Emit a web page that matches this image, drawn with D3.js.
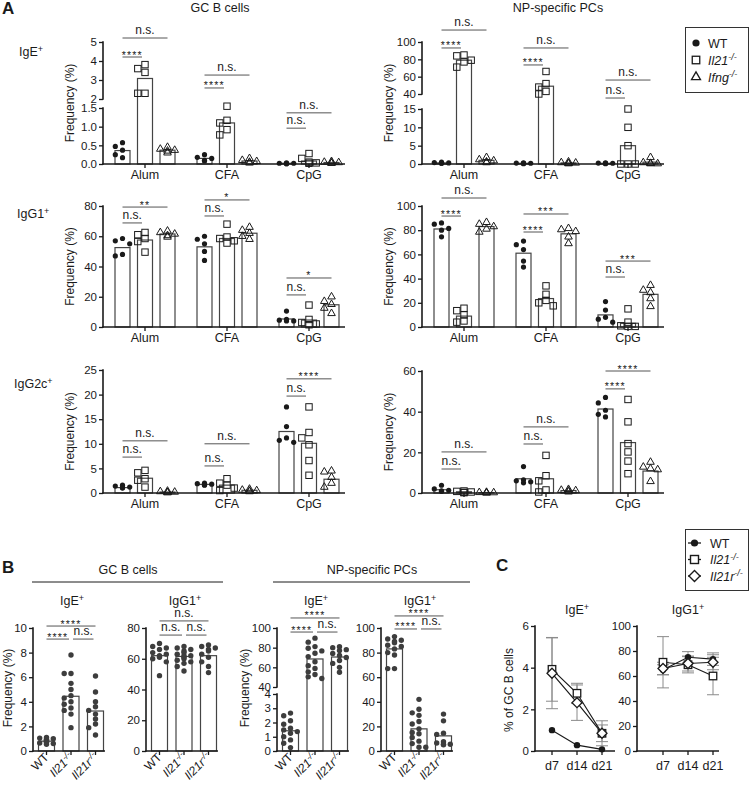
<!DOCTYPE html>
<html><head><meta charset="utf-8">
<script src="https://cdn.jsdelivr.net/npm/d3@7/dist/d3.min.js"></script>
<style>body{margin:0;background:#fff}</style>
</head><body>
<script>
// ================= DATA =================
const adjuvants = ["Alum","CFA","CpG"];
const genotypesA = ["WT","Il21","Ifng"];

// Panel A — points per [adjuvant][genotype]
const gcIgE_pts = [
  [[0.57,0.47,0.37,0.25,0.17],[3.81,3.6,3.4,2.3,2.3],[0.45,0.4,0.37,0.35,0.3]],
  [[0.25,0.18,0.15,0.1,0.08],[1.6,1.17,1.1,0.92,0.78],[0.15,0.1,0.07,0.05,0.03]],
  [[0.03,0.02,0.02,0.01,0.01],[0.28,0.15,0.05,0.03,0.02],[0.07,0.05,0.04,0.03,0.02]]
];
const gcIgE_bar = [[0.36,3.08,0.37],[0.15,1.1,0.08],[0.02,0.08,0.04]];
const gcIgE_sig = [[0,0,1,"****",4.21],[0,0,2,"n.s.",5.21],[1,0,1,"****",2.58],[1,0,2,"n.s.",3.26],[2,0,1,"n.s.",0.96],[2,0,2,"n.s.",1.37]];
const gcIgE_ticks = [0,0.5,1,1.5,2,3,4,5];

const npIgE_pts = [
  [[0.5,0.4,0.3,0.2,0.2],[85,84,79,77,71],[1.8,1.2,0.9,0.6,0.4]],
  [[0.3,0.25,0.2,0.15,0.1],[66,52,48,43,40],[0.6,0.4,0.3,0.2,0.1]],
  [[0.3,0.25,0.2,0.15,0.1],[15,10,5,0,0,0],[1.8,0.4,0.2,0.1,0.1]]
];
const npIgE_bar = [[0.3,79,1.0],[0.2,49,0.3],[0.2,5,0.5]];
const npIgE_sig = [[0,0,1,"****",93.1],[0,0,2,"n.s.",113.8],[1,0,1,"****",73.5],[1,0,2,"n.s.",93.1],[2,0,1,"n.s.",33.3],[2,0,2,"n.s.",56.1]];
const npIgE_ticks = [0,5,10,15,40,60,80,100];

const gcIgG1_pts = [
  [[58.5,57,55,48,47],[62.5,61,58.5,56.5,49.5],[63.5,62.5,61.5,60.5,59.5]],
  [[60,58,55,50,44],[68,59.5,58.5,57,55.5],[66,64,62,60,58]],
  [[10.5,5,4.5,4,4],[14.5,5,3,2,1.5],[20,17,15,12.5,9]]
];
const gcIgG1_bar = [[52.5,57.5,61.5],[53,58.5,62],[5.3,4.6,14.7]];
const gcIgG1_sig = [[0,0,1,"n.s.",68.8],[0,0,2,"**",79.3],[1,0,1,"n.s.",73.4],[1,0,2,"*",84],[2,0,1,"n.s.",21.2],[2,0,2,"*",32.4]];
const gcIgG1_ticks = [0,20,40,60,80];

const npIgG1_pts = [
  [[86,85,81.5,80,74.5],[15.5,13.5,10,5,4],[86.5,85,83,81,78.5]],
  [[71,68,64,54.5,49.5],[34,27,22,20,17.5],[81.5,80.5,79,74.5,69]],
  [[21,14,8,6.5,4],[15,4,1,0.5,0.5],[34.5,30.5,28.5,23.5,17]]
];
const npIgG1_bar = [[81,9,83],[61,23.5,77],[10,3,27]];
const npIgG1_sig = [[0,0,1,"****",91.7],[0,0,2,"n.s.",106.6],[1,0,1,"****",78.5],[1,0,2,"***",93.4],[2,0,1,"n.s.",41.3],[2,0,2,"***",54.5]];
const npIgG1_ticks = [0,20,40,60,80,100];

const gcIgG2c_pts = [
  [[1.6,1.4,1.2,1.1,1.0],[4.6,4.1,2.9,2.6,1.2],[0.4,0.3,0.2,0.1,0.1]],
  [[2.0,1.9,1.8,1.7,1.6],[2.9,2.0,1.6,1.0,0.5],[0.8,0.6,0.5,0.4,0.3]],
  [[17.5,13.5,11.2,10.7,10.3],[17.5,12.3,11.2,9.8,6.6,3.6],[4.5,4.3,3.2,2.0,1.2]]
];
const gcIgG2c_bar = [[1.1,3.0,0.2],[1.75,1.6,0.55],[12.5,10.1,2.8]];
const gcIgG2c_sig = [[0,0,1,"n.s.",7.3],[0,0,2,"n.s.",10.6],[1,0,1,"n.s.",5.5],[1,0,2,"n.s.",10.0],[2,0,1,"n.s.",19.7],[2,0,2,"****",23.2]];
const gcIgG2c_ticks = [0,5,10,15,20,25];

const npIgG2c_pts = [
  [[3.8,2,1.3,1,0.8],[1,0.8,0.5,0.3,0.2],[0.4,0.3,0.2,0.1,0.1]],
  [[13,6.5,6,5.5,5],[18.5,8.5,6,1.5,0.5],[1.8,1.4,1.2,1.0,0.6]],
  [[47,44.3,40.7,38.7,37.4],[46,35,24.3,20.2,15.7,9.5],[15.2,12.8,12,11.5,5.7]]
];
const npIgG2c_bar = [[1.6,0.6,0.2],[7,7,1.2],[41.3,24.8,10.8]];
const npIgG2c_sig = [[0,0,1,"n.s.",11.8],[0,0,2,"n.s.",20.2],[1,0,1,"n.s.",24.1],[1,0,2,"n.s.",32.5],[2,0,1,"****",51.2],[2,0,2,"****",60]];
const npIgG2c_ticks = [0,20,40,60];

// Panel B — points per genotype
const genotypesB = ["WT","Il21","Il21r"];
const bGcIgE_pts = [[1.1,1.05,1.0,0.95,0.9,0.85,0.8,0.75,0.7,0.65,0.6,0.55],[7.8,6.3,6.3,5.5,5.0,4.5,4.3,4.0,3.8,3.5,3.3,3.0,1.9],[6.1,4.8,4.0,3.6,3.3,3.0,2.6,2.2,1.9,1.3]];
const bGcIgE_bar = [0.8,4.45,3.25];
const bGcIgE_sig = [[0,1,"****",9.1],[1,2,"n.s.",9.1],[0,2,"****",10.16]];
const bGcIgE_ticks = [0,2,4,6,8,10];

const bGcIgG1_pts = [[70,68,67,66,64,63,62,61,60,58,49],[68,67,66,65,64,63,62,62,61,60,59,58,57,55,52],[69,68,67,66,65,63,61,58,55,51]];
const bGcIgG1_bar = [62,61.5,62];
const bGcIgG1_sig = [[0,1,"n.s.",75.4],[1,2,"n.s.",75.4],[0,2,"n.s.",84.6]];
const bGcIgG1_ticks = [0,20,40,60,80];

const bNpIgE_pts = [[2.66,2.47,2.12,1.88,1.6,1.48,1.36,1.25,1.0,0.78,0.54,0.24],[89.7,85.6,81.1,79.4,76.7,74.3,70.9,65.7,61.6,58.9,55.4,52.7,50.3,48.6],[81,80,78,77,74,72,70,67,64,60,55]];
const bNpIgE_bar = [1.42,68.5,70.5];
const bNpIgE_sig = [[0,1,"****",95.9],[1,2,"n.s.",95.9],[0,2,"****",110.2]];
const bNpIgE_ticks = [0,1,2,3,4,40,60,80,100];

const bNpIgG1_pts = [[93,91,90,89,88,86,85,83,80,78,67,67],[42,34,31,29,24,22,18,15,14,11,8,6,3,3],[30,24.5,14.5,13.5,7.5,6.5,5.5,5.5,5]];
const bNpIgG1_bar = [83,18,12.3];
const bNpIgG1_sig = [[0,1,"****",99.2],[1,2,"n.s.",99.2],[0,2,"****",109.8]];
const bNpIgG1_ticks = [0,20,40,60,80,100];

// Panel C — time course (mean, SD)
const days = ["d7","d14","d21"];
const cIgE_WT = [1.0,0.28,0.08];
const cIgE_WT_err = [0,0,0];
const cIgE_Il21 = [3.92,2.77,0.85];
const cIgE_Il21_err = [1.53,0.48,0.6];
const cIgE_Il21r = [3.73,2.32,0.85];
const cIgE_Il21r_err = [1.7,0.85,0.4];
const cIgE_ticks = [0,2,4,6];
const cIgG1_WT = [65,75,73.5];
const cIgG1_WT_err = [4,4.5,5];
const cIgG1_Il21 = [71,69,60];
const cIgG1_Il21_err = [20.5,6.5,15];
const cIgG1_Il21r = [66,70,71];
const cIgG1_Il21r_err = [5,6,6];
const cIgG1_ticks = [0,20,40,60,80,100];

// ================= DRAWING =================
const FONT = '"Liberation Sans", Arial, Helvetica, sans-serif';
const INK = "#1a1a1a";
const svg = d3.select("body").append("svg").attr("width",750).attr("height",790)
  .style("font-family",FONT);

const LBL = {
  WT:[{t:"WT"}],
  Il21:[{t:"Il21",i:1},{t:"-/-",i:1,sup:1}],
  Ifng:[{t:"Ifng",i:1},{t:"-/-",i:1,sup:1}],
  Il21r:[{t:"Il21r",i:1},{t:"-/-",i:1,sup:1}]
};
function rich(t, parts){
  parts.forEach(p=>{
    const s = t.append("tspan").text(p.t);
    if(p.i) s.attr("font-style","italic");
    if(p.sup) s.attr("font-size","0.72em").attr("dy","-0.5em");
  });
  return t;
}
function text(x,y,str,o={}){
  const t = svg.append("text").attr("x",x).attr("y",y).attr("fill",INK)
    .attr("font-size",o.size||12).attr("text-anchor",o.anchor||"start");
  if(o.bold) t.attr("font-weight","bold");
  if(o.parts) rich(t,o.parts); else t.text(str);
  if(o.rot!==undefined) t.attr("transform",`rotate(${o.rot},${x},${y})`);
  return t;
}
function supLabel(x,y,base,sup,o={}){
  return text(x,y,null,Object.assign({},o,{parts:[{t:base},{t:sup,sup:1}]}));
}

function marker(g,type,x,y,o={}){
  const st=o.stroke||INK, sw=o.sw||1;
  if(type==="circle") return g.append("circle").attr("cx",x).attr("cy",y).attr("r",o.r||2.6).attr("fill",o.fill||INK);
  if(type==="square"){const s=o.s||6.4;return g.append("rect").attr("x",x-s/2).attr("y",y-s/2).attr("width",s).attr("height",s).attr("fill",o.fill||"none").attr("stroke",st).attr("stroke-width",sw);}
  if(type==="triangle"){const s=o.s||7.6,h=s*Math.sqrt(3)/2;return g.append("path").attr("d",`M${x},${y-h*2/3}L${x+s/2},${y+h/3}L${x-s/2},${y+h/3}Z`).attr("fill",o.fill||"none").attr("stroke",st).attr("stroke-width",sw);}
  if(type==="diamond"){const s=o.s||4.8;return g.append("path").attr("d",`M${x},${y-s}L${x+s},${y}L${x},${y+s}L${x-s},${y}Z`).attr("fill",o.fill||"#fff").attr("stroke",st).attr("stroke-width",sw);}
}

function swarm(vals,yScale,cx,r,step,maxOff){
  const items = vals.map(v=>({v,y:yScale(v)})).sort((a,b)=>a.y-b.y);
  const placed=[];
  items.forEach(it=>{
    it.x=0;
    for(let k=0;k<30;k++){
      const off = k===0?0:(k%2?-1:1)*Math.ceil(k/2)*step;
      if(Math.abs(off)>maxOff) continue;
      const ok = placed.every(p=>Math.abs(p.y-it.y)>=2*r*0.9 || Math.abs(p.x-off)>=2*r*0.9);
      if(ok){it.x=off;break;}
    }
    placed.push(it);
  });
  return items.map(it=>({x:cx+it.x,y:it.y}));
}

function yAxis(x,scale,ticks,fmt,segs){
  const ax = d3.axisLeft(scale).tickValues(ticks).tickFormat(fmt).tickSize(4).tickPadding(2);
  const ga = svg.append("g").attr("transform",`translate(${x},0)`).call(ax);
  ga.attr("font-family",FONT);
  ga.select(".domain").remove();
  ga.selectAll(".tick line").attr("stroke",INK).attr("stroke-width",1.3);
  ga.selectAll(".tick text").attr("font-size",11.5).attr("fill",INK);
  segs.forEach(([a,b])=>ga.append("line").attr("x1",0).attr("x2",0)
    .attr("y1",scale(a)+0.7).attr("y2",scale(b)-0.7).attr("stroke",INK).attr("stroke-width",1.6));
  return ga;
}
function xAxisLine(x1,x2,y,tickXs){
  svg.append("line").attr("x1",x1-0.8).attr("x2",x2).attr("y1",y).attr("y2",y).attr("stroke",INK).attr("stroke-width",1.6);
  tickXs.forEach(tx=>svg.append("line").attr("x1",tx).attr("x2",tx).attr("y1",y).attr("y2",y+4).attr("stroke",INK).attr("stroke-width",1.3));
}
function sigMark(x1,x2,y,label){
  svg.append("line").attr("x1",x1).attr("x2",x2).attr("y1",y).attr("y2",y).attr("stroke","#555").attr("stroke-width",1);
  const stars = label.indexOf("*")>=0;
  const t = svg.append("text").attr("x",(x1+x2)/2).attr("y",stars?y+1.5:y-4).attr("text-anchor","middle")
    .attr("fill",INK).attr("font-size",stars?10.5:12).text(label);
  if(stars) t.attr("letter-spacing","1.2px");
}

// ----- Panel A -----
const panelsA = [
  {x0:103,pts:gcIgE_pts,bar:gcIgE_bar,sig:gcIgE_sig,ticks:gcIgE_ticks,dom:[0,1.5,2,5],rng:[164,108,99,42],segs:[[0,1.5],[2,5]],fmt:d=>d<2?d.toFixed(1):d},
  {x0:422,pts:npIgE_pts,bar:npIgE_bar,sig:npIgE_sig,ticks:npIgE_ticks,dom:[0,15,40,100],rng:[164,109,94,42],segs:[[0,15],[40,100]],fmt:d=>d},
  {x0:103,pts:gcIgG1_pts,bar:gcIgG1_bar,sig:gcIgG1_sig,ticks:gcIgG1_ticks,dom:[0,80],rng:[327,206],segs:[[0,80]],fmt:d=>d},
  {x0:422,pts:npIgG1_pts,bar:npIgG1_bar,sig:npIgG1_sig,ticks:npIgG1_ticks,dom:[0,100],rng:[327,206],segs:[[0,100]],fmt:d=>d},
  {x0:103,pts:gcIgG2c_pts,bar:gcIgG2c_bar,sig:gcIgG2c_sig,ticks:gcIgG2c_ticks,dom:[0,25],rng:[493,370],segs:[[0,25]],fmt:d=>d},
  {x0:422,pts:npIgG2c_pts,bar:npIgG2c_bar,sig:npIgG2c_sig,ticks:npIgG2c_ticks,dom:[0,60],rng:[493,371],segs:[[0,60]],fmt:d=>d}
];
const markA = {WT:"circle",Il21:"square",Ifng:"triangle"};
panelsA.forEach(p=>{
  const y = d3.scaleLinear().domain(p.dom).range(p.rng);
  const y0 = y(0);
  const gx = d3.scalePoint().domain(adjuvants).range([p.x0+42,p.x0+206]);
  const ix = d3.scalePoint().domain(genotypesA).range([-22.5,22.5]);
  const bw = 15;
  const g = svg.append("g");
  adjuvants.forEach((a,ai)=>{
    genotypesA.forEach((gn,gi)=>{
      const cx = gx(a)+ix(gn);
      const v = p.bar[ai][gi];
      g.append("rect").attr("x",cx-bw/2).attr("y",y(v)).attr("width",bw).attr("height",Math.max(0,y0-y(v)))
        .attr("fill","#fff").attr("stroke","#444").attr("stroke-width",1.2);
    });
  });
  adjuvants.forEach((a,ai)=>{
    genotypesA.forEach((gn,gi)=>{
      const cx = gx(a)+ix(gn);
      swarm(p.pts[ai][gi],y,cx,3.2,3.6,9).forEach(pt=>marker(g,markA[gn],pt.x,pt.y,gn==="WT"?{r:2.6}:{}));
    });
  });
  yAxis(p.x0,y,p.ticks,p.fmt,p.segs);
  xAxisLine(p.x0,p.x0+242,y0,adjuvants.map(a=>gx(a)));
  adjuvants.forEach(a=>text(gx(a),y0+15,a,{anchor:"middle",size:12.5}));
  p.sig.forEach(([ai,g1,g2,lab,v])=>{
    const a=adjuvants[ai];
    const x1=gx(a)+ix(genotypesA[g1]), x2=gx(a)+ix(genotypesA[g2]);
    sigMark(x1,g2-g1===1?x2-3:x2,y(v),lab);
  });
  text(p.x0-29,(p.rng[0]+p.rng[p.rng.length-1])/2,"Frequency (%)",{anchor:"middle",rot:-90,size:12});
});

text(2,14,"A",{bold:true,size:17});
text(220,12,"GC B cells",{anchor:"middle",size:12.5});
text(558,12,"NP-specific PCs",{anchor:"middle",size:12.5});
supLabel(19,56,"IgE","+",{size:12.5});
supLabel(17,218,"IgG1","+",{size:12.5});
supLabel(14,388,"IgG2c","+",{size:12.5});

// Legend A
svg.append("rect").attr("x",685.5).attr("y",27.5).attr("width",63).attr("height",65).attr("fill","#fff").attr("stroke","#333").attr("stroke-width",1);
genotypesA.forEach((gn,i)=>{
  const yy = 43+i*17;
  marker(svg,markA[gn],696,yy,gn==="WT"?{r:3.6}:(gn==="Il21"?{s:7.5,sw:1.3}:{s:9,sw:1.3}));
  text(708,yy+4.5,null,{parts:LBL[gn],size:12.5});
});

// ----- Panel B -----
text(2,573,"B",{bold:true,size:17});
text(128,574,"GC B cells",{anchor:"middle",size:12.5});
svg.append("line").attr("x1",32).attr("x2",223).attr("y1",582).attr("y2",582).attr("stroke",INK).attr("stroke-width",1);
text(372,574,"NP-specific PCs",{anchor:"middle",size:12.5});
svg.append("line").attr("x1",273).attr("x2",470).attr("y1",582).attr("y2",582).attr("stroke",INK).attr("stroke-width",1);

const panelsB = [
  {x0:33,pts:bGcIgE_pts,bar:bGcIgE_bar,sig:bGcIgE_sig,ticks:bGcIgE_ticks,dom:[0,10],rng:[751,628],segs:[[0,10]],title:"IgE",ylab:12},
  {x0:146,pts:bGcIgG1_pts,bar:bGcIgG1_bar,sig:bGcIgG1_sig,ticks:bGcIgG1_ticks,dom:[0,80],rng:[751,628],segs:[[0,80]],title:"IgG1"},
  {x0:277,pts:bNpIgE_pts,bar:bNpIgE_bar,sig:bNpIgE_sig,ticks:bNpIgE_ticks,dom:[0,4,40,100],rng:[751,694,687,628],segs:[[0,4],[40,100]],title:"IgE",ylab:249},
  {x0:381,pts:bNpIgG1_pts,bar:bNpIgG1_bar,sig:bNpIgG1_sig,ticks:bNpIgG1_ticks,dom:[0,100],rng:[751,628],segs:[[0,100]],title:"IgG1"}
];
panelsB.forEach(p=>{
  const y = d3.scaleLinear().domain(p.dom).range(p.rng);
  const y0 = y(0);
  const x = d3.scalePoint().domain(genotypesB).range([p.x0+13.5,p.x0+62.5]);
  const bw = 16;
  const g = svg.append("g");
  genotypesB.forEach((gn,gi)=>{
    const v=p.bar[gi];
    g.append("rect").attr("x",x(gn)-bw/2).attr("y",y(v)).attr("width",bw).attr("height",y0-y(v))
      .attr("fill","#fff").attr("stroke","#444").attr("stroke-width",1.2);
  });
  genotypesB.forEach((gn,gi)=>{
    swarm(p.pts[gi],y,x(gn),2.7,3.4,10).forEach(pt=>marker(g,"circle",pt.x,pt.y,{r:2.7,fill:"#3d3d3d"}));
  });
  yAxis(p.x0,y,p.ticks,d=>d,p.segs);
  xAxisLine(p.x0,p.x0+72,y0,genotypesB.map(gn=>x(gn)));
  genotypesB.forEach(gn=>text(x(gn)+3,y0+7,null,{parts:LBL[gn],anchor:"end",rot:-45,size:12}));
  p.sig.forEach(([g1,g2,lab,v])=>{
    const adj = g2-g1===1;
    sigMark(x(genotypesB[g1])+(adj&&g1>0?2:0),x(genotypesB[g2])-(adj?2:0),y(v),lab);
  });
  supLabel((x(genotypesB[0])+x(genotypesB[2]))/2+1,605,p.title,"+",{anchor:"middle",size:12.5});
  if(p.ylab) text(p.ylab,688,"Frequency (%)",{anchor:"middle",rot:-90,size:12});
});

// ----- Panel C -----
text(496,571,"C",{bold:true,size:17});
const panelsC = [
  {x0:535,x1:615,xr:[552,602],dom:[0,6],ticks:cIgE_ticks,title:"IgE",ser:[[cIgE_WT,cIgE_WT_err],[cIgE_Il21,cIgE_Il21_err],[cIgE_Il21r,cIgE_Il21r_err]],ylab:true},
  {x0:637,x1:719,xr:[663,713],dom:[0,100],ticks:cIgG1_ticks,title:"IgG1",ser:[[cIgG1_WT,cIgG1_WT_err],[cIgG1_Il21,cIgG1_Il21_err],[cIgG1_Il21r,cIgG1_Il21r_err]]}
];
const markC = ["circle","square","diamond"];
const styleC = [{r:3.2},{s:7.5,fill:"#fff",sw:1.3},{s:5,fill:"#fff",sw:1.3}];
panelsC.forEach(p=>{
  const y = d3.scaleLinear().domain(p.dom).range([751,626]);
  const x = d3.scalePoint().domain(days).range(p.xr);
  const g = svg.append("g");
  p.ser.forEach(([vals,errs])=>{
    days.forEach((d,i)=>{
      if(!errs[i]) return;
      const cx=x(d), t=y(vals[i]+errs[i]), b=y(vals[i]-errs[i]);
      g.append("line").attr("x1",cx).attr("x2",cx).attr("y1",t).attr("y2",b).attr("stroke","#8a8a8a").attr("stroke-width",1);
      [t,b].forEach(yy=>g.append("line").attr("x1",cx-6).attr("x2",cx+6).attr("y1",yy).attr("y2",yy).attr("stroke","#8a8a8a").attr("stroke-width",1));
    });
  });
  const line = d3.line().x((v,i)=>x(days[i])).y(v=>y(v));
  p.ser.forEach(([vals])=>g.append("path").attr("d",line(vals)).attr("fill","none").attr("stroke",INK).attr("stroke-width",1.2));
  p.ser.forEach(([vals],si)=>vals.forEach((v,i)=>marker(g,markC[si],x(days[i]),y(v),styleC[si])));
  yAxis(p.x0,y,p.ticks,d=>d,[p.dom]);
  xAxisLine(p.x0,p.x1,751,days.map(d=>x(d)));
  days.forEach(d=>text(x(d),770,d,{anchor:"middle",size:12.5}));
  supLabel((p.xr[0]+p.xr[1])/2,614,p.title,"+",{anchor:"middle",size:12.5});
  if(p.ylab) text(513,690,"% of GC B cells",{anchor:"middle",rot:-90,size:12});
});

// Legend C
svg.append("rect").attr("x",685.5).attr("y",529.5).attr("width",63).attr("height",61).attr("fill","#fff").attr("stroke","#333").attr("stroke-width",1);
["WT","Il21","Il21r"].forEach((gn,i)=>{
  const yy = 543+i*16.5;
  svg.append("line").attr("x1",688).attr("x2",701).attr("y1",yy).attr("y2",yy).attr("stroke",INK).attr("stroke-width",1.3);
  marker(svg,markC[i],694.5,yy,i===0?{r:3.6}:(i===1?{s:8,fill:"#fff",sw:1.4}:{s:5.5,fill:"#fff",sw:1.4}));
  text(710,yy+4.5,null,{parts:LBL[gn],size:12.5});
});
</script>
</body></html>
